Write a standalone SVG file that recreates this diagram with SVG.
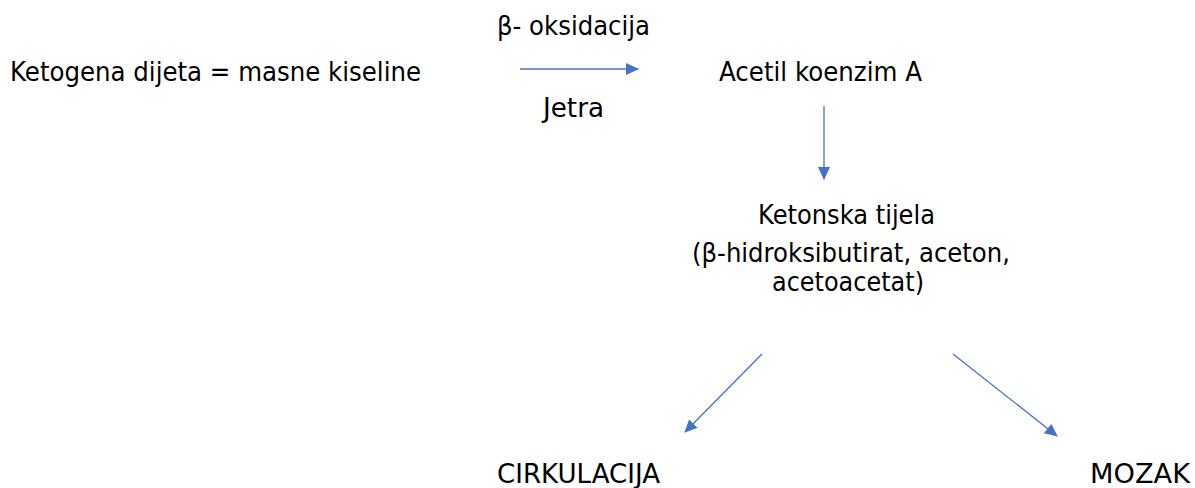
<svg xmlns="http://www.w3.org/2000/svg" width="1195" height="488" viewBox="0 0 1195 488">
<defs>
<style>
text{font-family:"DejaVu Sans","Liberation Sans",sans-serif;font-size:26px;fill:#000}
.c line{stroke:#4472C4;stroke-width:1.3;fill:none}
</style>
<marker id="ah" markerWidth="13" markerHeight="12" refX="12" refY="6" orient="auto" markerUnits="userSpaceOnUse">
<path d="M0,0 L13,6 L0,12 Z" fill="#4472C4"/>
</marker>
</defs>
<rect width="1195" height="488" fill="#fff"/>
<g id="n-ketogena"><text x="10" y="81" textLength="411" lengthAdjust="spacingAndGlyphs">Ketogena dijeta = masne kiseline</text></g>
<g id="l-oksidacija"><text x="497" y="35" textLength="153" lengthAdjust="spacingAndGlyphs">β- oksidacija</text></g>
<g id="l-jetra"><text x="543" y="117" textLength="61" lengthAdjust="spacingAndGlyphs">Jetra</text></g>
<g id="n-acetil"><text x="719" y="81" textLength="203" lengthAdjust="spacingAndGlyphs">Acetil koenzim A</text></g>
<g id="n-ketonska">
<text x="758" y="224" textLength="177" lengthAdjust="spacingAndGlyphs">Ketonska tijela</text>
<text x="692" y="262" textLength="318" lengthAdjust="spacingAndGlyphs">(β-hidroksibutirat, aceton,</text>
<text x="772" y="291" textLength="152" lengthAdjust="spacingAndGlyphs">acetoacetat)</text>
</g>
<g id="n-cirkulacija"><text x="497" y="483" textLength="163" lengthAdjust="spacingAndGlyphs">CIRKULACIJA</text></g>
<g id="n-mozak"><text x="1090" y="483" textLength="100" lengthAdjust="spacingAndGlyphs">MOZAK</text></g>
<g id="connectors" class="c">
<line x1="520" y1="69" x2="638" y2="69" marker-end="url(#ah)"/>
<line x1="824" y1="106" x2="824" y2="179" marker-end="url(#ah)"/>
<line x1="762" y1="354" x2="685" y2="432" marker-end="url(#ah)"/>
<line x1="953" y1="354" x2="1057" y2="436" marker-end="url(#ah)"/>
</g>
</svg>
